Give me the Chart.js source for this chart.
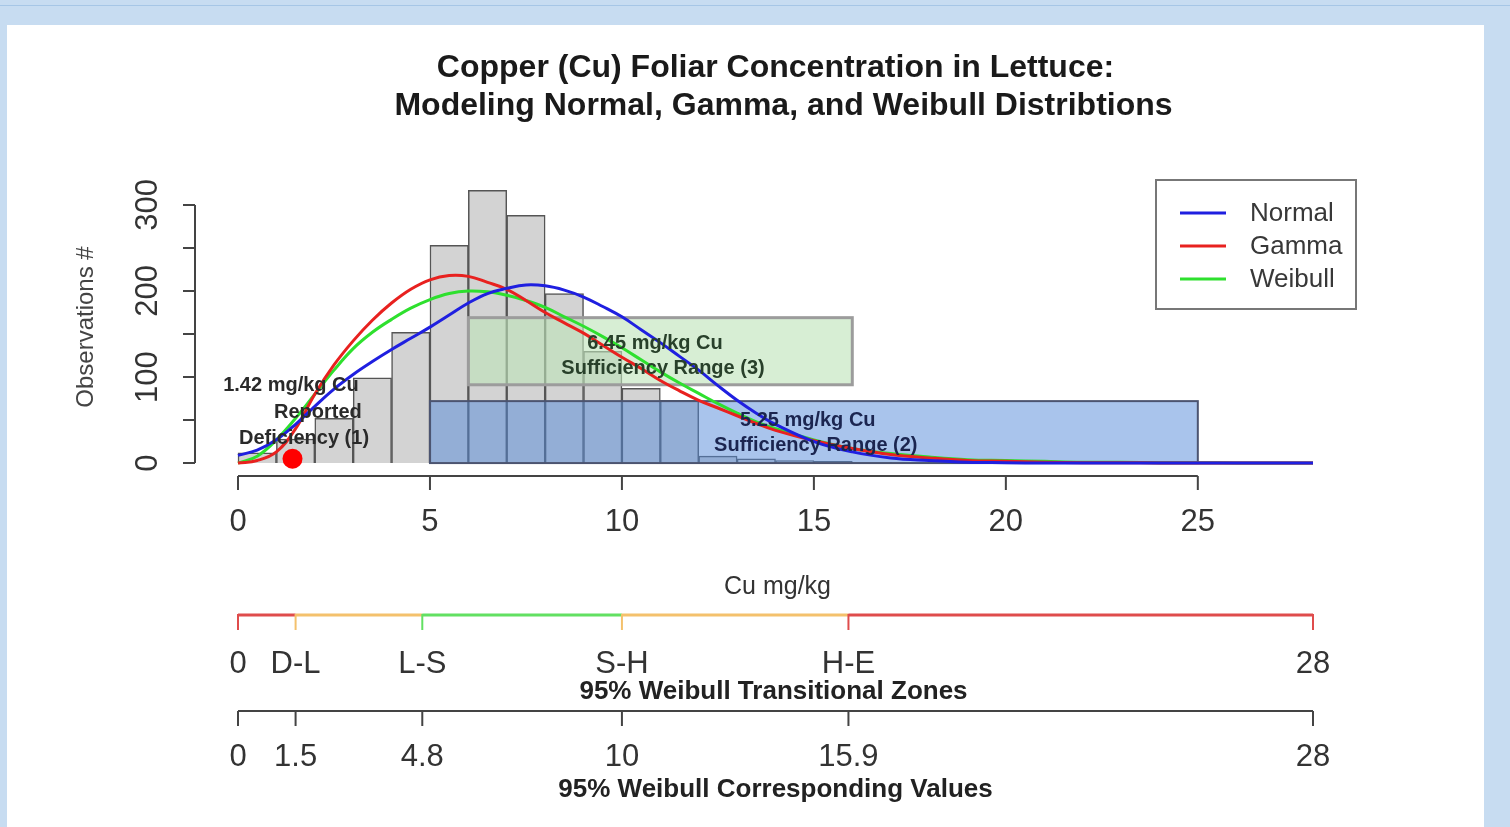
<!DOCTYPE html>
<html>
<head>
<meta charset="utf-8">
<script src="https://cdn.jsdelivr.net/npm/chart.js@4.4.1/dist/chart.umd.min.js"></script>
<style>
  html, body { margin: 0; padding: 0; width: 1510px; height: 827px; overflow: hidden; background: #c7dcf1; }
  #topline { position: absolute; left: 0; top: 5px; width: 1510px; height: 1px; background: #a6c6e6; }
  #panel { position: absolute; left: 7px; top: 25px; width: 1477px; height: 802px; background: #fff; }
  #chart { position: absolute; left: 0; top: 0; }
</style>
</head>
<body>
<div id="topline"></div>
<div id="panel"></div>
<canvas id="chart" width="1510" height="827"></canvas>
<script>
// histogram (1 mg/kg bins)
const binMids = [0.5, 1.5, 2.5, 3.5, 4.5, 5.5, 6.5, 7.5, 8.5, 9.5, 10.5, 11.5, 12.5, 13.5, 14.5, 15.5, 16.5, 17.5, 18.5];
const binCounts = [12, 28, 52, 99, 152, 253, 317, 288, 197, 130, 87, 73, 8, 5, 3, 2, 1, 1, 1];

// fitted density curves, scaled to counts
const curveX = [0, 0.5, 1, 1.5, 2, 2.5, 3, 3.5, 4, 4.5, 5, 5.5, 6, 6.5, 7, 7.5, 8, 8.5, 9, 9.5, 10,
  10.5, 11, 11.5, 12, 12.5, 13, 13.5, 14, 15, 16, 17, 18, 19, 20, 21, 22, 23, 24, 25, 26, 27, 28];
const normalY = [9, 15, 27, 45, 66, 86, 103, 118, 132, 145, 158, 172, 186, 197, 203, 207, 206, 201, 193, 182, 170,
  155, 140, 124, 108, 90, 73, 58, 45, 25, 13, 6, 3, 1, 0.5, 0, 0, 0, 0, 0, 0, 0, 0];
const gammaY = [0, 3, 13, 40, 80, 114, 142, 166, 186, 202, 213, 218, 217, 210, 202, 189, 175, 163, 151, 137, 123,
  110, 96, 84, 73, 64, 55, 46, 38, 26, 17, 10, 6, 3, 2, 1, 0.5, 0.3, 0.2, 0.1, 0, 0, 0];
const weibullY = [0, 8, 27, 52, 80, 108, 133, 152, 167, 180, 190, 197, 200, 199, 195, 189, 181, 170, 159, 147, 134,
  120, 106, 93, 81, 69, 58, 48, 40, 27, 17, 11, 7, 4, 3, 2, 1, 1, 0.5, 0.3, 0.2, 0.1, 0];

const seriesNames = ['Normal', 'Gamma', 'Weibull'];
const deficiencyPoint = [{ x: 1.42, y: 5 }];
const suffRange3 = [6, 16, 91, 169];   // x0, x1, y0, y1
const suffRange2 = [5, 25, 0, 72];

const xTickVals = [0, 5, 10, 15, 20, 25];
const yTickVals = [0, 50, 100, 150, 200, 250, 300];
const yLabelVals = [0, 100, 200, 300];
const zoneVals = [0, 1.5, 4.8, 10, 15.9, 28];
const zoneNames = ['0', 'D-L', 'L-S', 'S-H', 'H-E', '28'];
const zoneValueLabels = ['0', '1.5', '4.8', '10', '15.9', '28'];

const FONT = "'Liberation Sans', Arial, Helvetica, sans-serif";
const RED = '#e8211f', BLUE = '#1f1fe0', GREEN = '#2ee02e';
const zoneColors = ['#df4c4c', '#f4c16c', '#62e062', '#f4c16c', '#df4c4c'];

function pts(ys) { return curveX.map((x, i) => ({ x: x, y: ys[i] })); }

function txt(ctx, s, x, y, size, bold, color, align) {
  ctx.font = (bold ? 'bold ' : '') + size + 'px ' + FONT;
  ctx.fillStyle = color || '#222';
  ctx.textAlign = align || 'center';
  ctx.textBaseline = 'middle';
  ctx.fillText(s, x, y);
}

const rPlot = {
  id: 'rPlot',
  afterDatasetDraw(chart, args) {
    if (args.index !== 0) return;   // right after histogram bars
    const ctx = chart.ctx, xs = chart.scales.x, ys = chart.scales.y;
    const box = (r, fill, stroke, lw) => {
      const x0 = xs.getPixelForValue(r[0]), x1 = xs.getPixelForValue(r[1]);
      const y0 = ys.getPixelForValue(r[2]), y1 = ys.getPixelForValue(r[3]);
      ctx.save();
      ctx.fillStyle = fill;
      ctx.fillRect(x0, y1, x1 - x0, y0 - y1);
      ctx.strokeStyle = stroke;
      ctx.lineWidth = lw;
      ctx.strokeRect(x0, y1, x1 - x0, y0 - y1);
      ctx.restore();
    };
    box(suffRange3, 'rgba(190,228,185,0.62)', '#9c9c9c', 3);
    box(suffRange2, 'rgba(83,137,217,0.5)', '#4c5470', 2);
  },
  afterDatasetsDraw(chart) {
    const ctx = chart.ctx, xs = chart.scales.x, ys = chart.scales.y;
    const at = (s, vx, vy, col) => txt(ctx, s, xs.getPixelForValue(vx), ys.getPixelForValue(vy), 20, true, col);
    at('1.42 mg/kg Cu', 1.38, 90, '#2a2a2a');
    at('Reported', 2.08, 59, '#2a2a2a');
    at('Deficiency (1)', 1.72, 29, '#2a2a2a');
    at('6.45 mg/kg Cu', 10.86, 139, '#28402a');
    at('Sufficiency Range (3)', 11.07, 110, '#28402a');
    at('5.25 mg/kg Cu', 14.84, 50, '#1b2550');
    at('Sufficiency Range (2)', 15.05, 21, '#1b2550');

    // legend, top right of plot region
    const a = chart.chartArea;
    ctx.save();
    ctx.strokeStyle = '#777';
    ctx.lineWidth = 2;
    ctx.fillStyle = '#fff';
    ctx.fillRect(a.right - 200, a.top, 200, 129);
    ctx.strokeRect(a.right - 200, a.top, 200, 129);
    chart.data.datasets.slice(1, 4).forEach((ds, i) => {
      const y = a.top + 33 + i * 33;
      ctx.strokeStyle = ds.borderColor;
      ctx.lineWidth = 3;
      ctx.beginPath();
      ctx.moveTo(a.right - 176, y);
      ctx.lineTo(a.right - 130, y);
      ctx.stroke();
      txt(ctx, ds.label, a.right - 106, y + 1, 26, false, '#383838', 'left');
    });
    ctx.restore();
  },
  afterDraw(chart) {
    const ctx = chart.ctx, xs = chart.scales.x, ys = chart.scales.y, a = chart.chartArea;
    const cx = (a.left + a.right) / 2;
    ctx.save();
    ctx.lineCap = 'butt';

    txt(ctx, 'Copper (Cu) Foliar Concentration in Lettuce:', cx, 68, 32, true, '#1a1a1a');
    txt(ctx, 'Modeling Normal, Gamma, and Weibull Distribtions', cx + 8, 106, 32, true, '#1a1a1a');

    // x axis
    const yAx = a.bottom + 2;
    ctx.strokeStyle = '#444';
    ctx.lineWidth = 2;
    ctx.beginPath();
    ctx.moveTo(xs.getPixelForValue(xTickVals[0]), yAx);
    ctx.lineTo(xs.getPixelForValue(xTickVals[xTickVals.length - 1]), yAx);
    xs.ticks.forEach(t => {
      const px = xs.getPixelForValue(t.value);
      ctx.moveTo(px, yAx);
      ctx.lineTo(px, yAx + 14);
    });
    ctx.stroke();
    xs.ticks.forEach(t => txt(ctx, String(t.value), xs.getPixelForValue(t.value), 522, 31, false, '#333'));
    txt(ctx, 'Cu mg/kg', cx + 2, 587, 25, false, '#333');

    // y axis
    const xAx = a.left;
    ctx.beginPath();
    ctx.moveTo(xAx, ys.getPixelForValue(yTickVals[0]));
    ctx.lineTo(xAx, ys.getPixelForValue(yTickVals[yTickVals.length - 1]));
    ys.ticks.forEach(t => {
      const py = ys.getPixelForValue(t.value);
      ctx.moveTo(xAx, py);
      ctx.lineTo(xAx - 12, py);
    });
    ctx.stroke();
    ys.ticks.forEach(t => {
      if (!yLabelVals.includes(t.value)) return;
      ctx.save();
      ctx.translate(148, ys.getPixelForValue(t.value));
      ctx.rotate(-Math.PI / 2);
      txt(ctx, String(t.value), 0, 0, 31, false, '#333');
      ctx.restore();
    });
    ctx.save();
    ctx.translate(86, (a.top + a.bottom) / 2);
    ctx.rotate(-Math.PI / 2);
    txt(ctx, 'Observations #', 0, 0, 24, false, '#444');
    ctx.restore();

    // transitional zones scale (coloured)
    const zy = 615;
    ctx.lineWidth = 3;
    for (let i = 0; i < zoneVals.length - 1; i++) {
      ctx.strokeStyle = zoneColors[i];
      ctx.beginPath();
      ctx.moveTo(xs.getPixelForValue(zoneVals[i]), zy);
      ctx.lineTo(xs.getPixelForValue(zoneVals[i + 1]), zy);
      ctx.stroke();
    }
    zoneVals.forEach((v, i) => {
      const px = xs.getPixelForValue(v);
      ctx.strokeStyle = zoneColors[Math.min(i, zoneColors.length - 1)];
      ctx.lineWidth = 2;
      ctx.beginPath();
      ctx.moveTo(px, zy - 1);
      ctx.lineTo(px, zy + 15);
      ctx.stroke();
      txt(ctx, zoneNames[i], px, 664, 31, false, '#333');
    });
    txt(ctx, '95% Weibull Transitional Zones', cx - 2, 692, 26, true, '#222');

    // corresponding values scale
    const vy = 711;
    ctx.strokeStyle = '#444';
    ctx.lineWidth = 2;
    ctx.beginPath();
    ctx.moveTo(xs.getPixelForValue(zoneVals[0]), vy);
    ctx.lineTo(xs.getPixelForValue(zoneVals[zoneVals.length - 1]), vy);
    zoneVals.forEach(v => {
      const px = xs.getPixelForValue(v);
      ctx.moveTo(px, vy);
      ctx.lineTo(px, vy + 15);
    });
    ctx.stroke();
    zoneVals.forEach((v, i) => txt(ctx, zoneValueLabels[i], xs.getPixelForValue(v), 757, 31, false, '#333'));
    txt(ctx, '95% Weibull Corresponding Values', cx, 790, 26, true, '#222');
    ctx.restore();
  }
};

const curve = (label, ys, color) => ({
  type: 'line', label: label, data: pts(ys), borderColor: color, borderWidth: 3,
  pointRadius: 0, tension: 0.4, fill: false, order: 1
});

new Chart(document.getElementById('chart'), {
  data: {
    datasets: [
      {
        type: 'bar', label: 'Histogram',
        data: binMids.map((x, i) => ({ x: x, y: binCounts[i] })),
        backgroundColor: '#d3d3d3', borderColor: '#555', borderWidth: 1.5,
        barPercentage: 1, categoryPercentage: 1, grouped: false, order: 10
      },
      curve(seriesNames[0], normalY, BLUE),
      curve(seriesNames[1], gammaY, RED),
      curve(seriesNames[2], weibullY, GREEN),
      {
        type: 'scatter', label: 'Deficiency', data: deficiencyPoint,
        pointRadius: 10, pointBackgroundColor: '#ff0000', pointBorderWidth: 0, order: 0
      }
    ]
  },
  options: {
    responsive: false,
    animation: false,
    layout: { padding: { left: 195, right: 154, top: 180, bottom: 353 } },
    plugins: { legend: { display: false }, tooltip: { enabled: false } },
    scales: {
      x: {
        type: 'linear', display: false, offset: false, min: -1.12, max: 29.12,
        afterBuildTicks: s => { s.ticks = xTickVals.map(v => ({ value: v })); }
      },
      y: {
        type: 'linear', display: false, min: -12.7, max: 329,
        afterBuildTicks: s => { s.ticks = yTickVals.map(v => ({ value: v })); }
      }
    }
  },
  plugins: [rPlot]
});
</script>
</body>
</html>
